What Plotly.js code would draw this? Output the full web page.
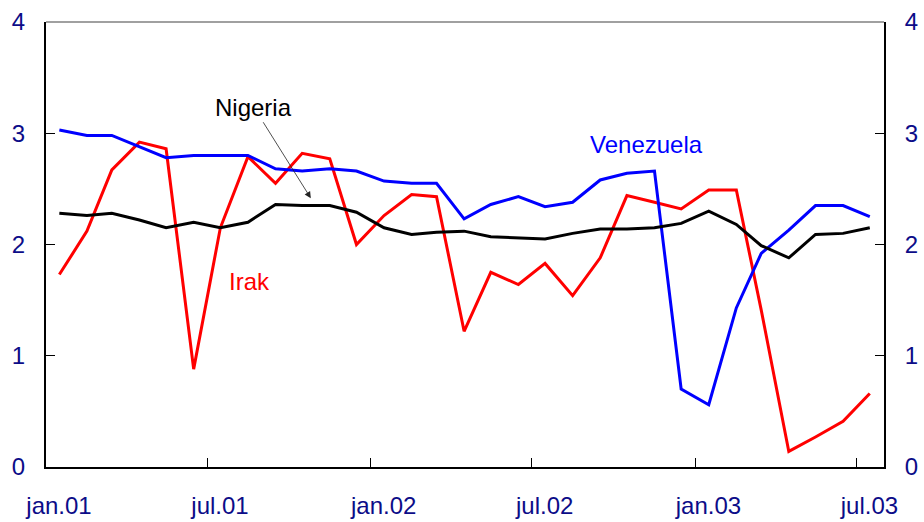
<!DOCTYPE html>
<html>
<head>
<meta charset="utf-8">
<script src="https://cdn.plot.ly/plotly-3.0.1.min.js"></script>
<style>
html,body{margin:0;padding:0;background:#fff;}
#chart{width:924px;height:522px;}
</style>
</head>
<body>
<div id="chart"></div>
<script>
// Monthly observations, Jan 2001 – Jul 2003 (plotted at mid-month)
const months = [
  '2001-01','2001-02','2001-03','2001-04','2001-05','2001-06','2001-07','2001-08','2001-09','2001-10','2001-11','2001-12',
  '2002-01','2002-02','2002-03','2002-04','2002-05','2002-06','2002-07','2002-08','2002-09','2002-10','2002-11','2002-12',
  '2003-01','2003-02','2003-03','2003-04','2003-05','2003-06','2003-07'
];
const venezuela = [3.03,2.98,2.98,2.88,2.78,2.80,2.80,2.80,2.68,2.66,2.68,2.66,2.57,2.55,2.55,2.23,2.36,2.43,2.34,2.38,2.58,2.64,2.66,0.70,0.56,1.43,1.92,2.13,2.35,2.35,2.25];
const nigeria   = [2.28,2.26,2.28,2.22,2.15,2.20,2.15,2.20,2.36,2.35,2.35,2.29,2.15,2.09,2.11,2.12,2.07,2.06,2.05,2.10,2.14,2.14,2.15,2.19,2.30,2.18,1.99,1.88,2.09,2.10,2.15];
const irak      = [1.73,2.12,2.67,2.92,2.86,0.88,2.15,2.79,2.55,2.82,2.77,2.00,2.26,2.45,2.43,1.22,1.75,1.64,1.83,1.54,1.88,2.44,2.38,2.32,2.49,2.49,1.41,0.14,0.27,0.41,0.66];
const tickDates  = ['2001-01-01','2001-07-01','2002-01-01','2002-07-01','2003-01-01','2003-07-01'];
const tickLabels = ['jan.01','jul.01','jan.02','jul.02','jan.03','jul.03'];
const yTicks = [0,1,2,3,4];

const xDates = months.map(m => m + '-16');

const navy = '#0c0c88';
const fontFam = 'Liberation Sans, Arial, sans-serif';

const traces = [
  {x: xDates, y: irak, type: 'scatter', mode: 'lines', name: 'Irak',
   line: {color: '#ff0000', width: 3}},
  {x: xDates, y: venezuela, type: 'scatter', mode: 'lines', name: 'Venezuela',
   line: {color: '#0000ff', width: 3}},
  {x: xDates, y: nigeria, type: 'scatter', mode: 'lines', name: 'Nigeria',
   line: {color: '#000000', width: 3}, yaxis: 'y2'}
];

const layout = {
  width: 924, height: 522,
  margin: {l: 46, r: 40, t: 22, b: 55},
  paper_bgcolor: '#ffffff', plot_bgcolor: '#ffffff',
  showlegend: false,
  font: {family: fontFam, size: 24, color: navy},
  xaxis: {
    type: 'date', range: ['2001-01-01', '2003-08-01'],
    tickmode: 'array', tickvals: tickDates, ticktext: tickLabels,
    ticks: 'inside', ticklen: 9, tickwidth: 1, tickcolor: '#000',
    ticklabelshift: 13, ticklabelstandoff: 16,
    showline: true, linecolor: '#000', linewidth: 2,
    showgrid: false, zeroline: false,
    tickfont: {family: fontFam, size: 24, color: navy}
  },
  yaxis: {
    range: [0, 4], tickmode: 'array', tickvals: yTicks,
    ticks: 'inside', ticklen: 9, tickwidth: 1, tickcolor: '#000',
    showline: true, linecolor: '#000', linewidth: 2,
    showgrid: false, zeroline: false, ticklabelstandoff: 14,
    tickfont: {family: fontFam, size: 24, color: navy}
  },
  yaxis2: {
    range: [0, 4], overlaying: 'y', side: 'right', anchor: 'x',
    tickmode: 'array', tickvals: yTicks,
    ticks: 'inside', ticklen: 9, tickwidth: 1, tickcolor: '#000',
    showline: true, linecolor: '#000', linewidth: 2,
    showgrid: false, zeroline: false, ticklabelstandoff: 14,
    tickfont: {family: fontFam, size: 24, color: navy}
  },
  shapes: [
    {type: 'line', xref: 'paper', yref: 'paper', x0: 0, x1: 1, y0: 1, y1: 1,
     line: {color: '#808080', width: 1.5}}
  ],
  annotations: [
    {xref: 'paper', yref: 'paper', x: 0.316, y: 0.604, text: 'Nigeria',
     showarrow: true, axref: 'pixel', ayref: 'pixel', ax: -57, ay: -91,
     arrowhead: 2, arrowsize: 1.6, arrowwidth: 0.8, arrowcolor: '#222', standoff: 0,
     font: {family: fontFam, size: 24, color: '#000'}},
    {xref: 'paper', yref: 'paper', x: 0.716, y: 0.724, text: 'Venezuela', showarrow: false,
     xanchor: 'center', yanchor: 'middle',
     font: {family: fontFam, size: 24, color: '#0000ff'}},
    {xref: 'paper', yref: 'paper', x: 0.243, y: 0.416, text: 'Irak', showarrow: false,
     xanchor: 'center', yanchor: 'middle',
     font: {family: fontFam, size: 24, color: '#ff0000'}}
  ]
};

Plotly.newPlot('chart', traces, layout, {displayModeBar: false, staticPlot: true});
</script>
</body>
</html>
